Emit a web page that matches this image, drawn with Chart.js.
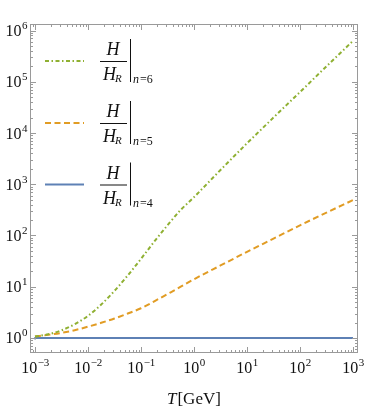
<!DOCTYPE html>
<html>
<head>
<meta charset="utf-8">
<script src="https://cdn.jsdelivr.net/npm/chart.js@4/dist/chart.umd.min.js"></script>
<style>
  html, body { margin: 0; padding: 0; background: #fff; }
  #wrap { position: relative; width: 366px; height: 412px; }
</style>
</head>
<body>
<div id="wrap"><canvas id="myChart"></canvas></div>
<script>
// temperatures T [GeV]
var tValues = [0.001, 0.00178, 0.00316, 0.00562, 0.01, 0.0178, 0.0316, 0.0562, 0.1, 0.178, 0.316, 0.562, 1, 3.16, 10, 31.6, 100, 316, 1000];
// H/H_R for n = 6, 5, 4
var ratioN6 = [1.07, 1.18, 1.41, 1.86, 2.7, 4.5, 8.3, 16.6, 35, 76, 158, 316, 560, 1900, 6300, 20000, 63000, 200000, 630000];
var ratioN5 = [1.07, 1.15, 1.26, 1.42, 1.66, 1.98, 2.4, 3.0, 3.8, 5.2, 7.2, 10, 14, 26, 48, 87, 158, 280, 490];
var ratioN4 = [0.94, 1, 1, 1, 1, 1, 1, 1, 1, 1, 1, 1, 1, 1, 1, 1, 1, 1, 1];
var tN4 = [0.001, 0.00101, 0.00316, 0.00562, 0.01, 0.0178, 0.0316, 0.0562, 0.1, 0.178, 0.316, 0.562, 1, 3.16, 10, 31.6, 100, 316, 1000];

var seriesLabels = ['n=6', 'n=5', 'n=4'];
var xDecades = [-3, -2, -1, 0, 1, 2, 3];
var yDecades = [0, 1, 2, 3, 4, 5, 6];

function pts(xs, ys) {
  return xs.map(function(x, i){ return {x: x, y: ys[i]}; });
}

var green = '#8FB032', orange = '#E19C24', blue = '#5E81B5';
var serif = '"Liberation Serif", "DejaVu Serif", serif';

function drawPow(ctx, x, y, exp, align) {
  var base = '10', sup = String(exp).replace('-', '\u2212');
  ctx.font = '16px ' + serif;
  var wb = ctx.measureText(base).width;
  ctx.font = '11px ' + serif;
  var ws = ctx.measureText(sup).width;
  var left = align === 'center' ? x - (wb + ws) / 2 : x - wb - ws;
  ctx.fillStyle = '#111';
  ctx.textAlign = 'left';
  ctx.textBaseline = 'alphabetic';
  ctx.font = '16px ' + serif;
  ctx.fillText(base, left, y);
  ctx.font = '11px ' + serif;
  ctx.fillText(sup, left + wb + 0.5, y - 7);
}

function drawLegendEntry(ctx, y, color, dash, sub) {
  ctx.save();
  ctx.strokeStyle = color;
  ctx.lineWidth = 2;
  ctx.setLineDash(dash);
  ctx.beginPath();
  ctx.moveTo(45, y);
  ctx.lineTo(84, y);
  ctx.stroke();
  ctx.setLineDash([]);
  ctx.fillStyle = '#111';
  ctx.strokeStyle = '#111';
  ctx.lineWidth = 1;
  ctx.textBaseline = 'alphabetic';
  ctx.font = 'italic 18px ' + serif;
  ctx.textAlign = 'center';
  ctx.fillText('H', 113, y - 6);
  ctx.beginPath();
  ctx.moveTo(100, y + 0.5);
  ctx.lineTo(127, y + 0.5);
  ctx.stroke();
  ctx.textAlign = 'left';
  ctx.fillText('H', 103, y + 19);
  var wh = ctx.measureText('H').width;
  ctx.font = 'italic 11px ' + serif;
  ctx.fillText('R', 103 + wh - 1, y + 21);
  ctx.beginPath();
  ctx.moveTo(130.5, y - 22);
  ctx.lineTo(130.5, y + 21);
  ctx.stroke();
  ctx.font = 'italic 12px ' + serif;
  ctx.fillText('n', 133, y + 22);
  ctx.font = '12px ' + serif;
  ctx.fillText(sub.slice(1), 140, y + 22);
  ctx.restore();
}

var framePlugin = {
  id: 'frame',
  afterDraw: function(chart) {
    var ctx = chart.ctx, a = chart.chartArea;
    var xs = chart.scales.x, ys = chart.scales.y;
    ctx.save();
    ctx.strokeStyle = '#9a9a9a';
    ctx.lineWidth = 1;
    ctx.strokeRect(Math.round(a.left) + 0.5, Math.round(a.top) + 0.5,
                   Math.round(a.right - a.left) - 1, Math.round(a.bottom - a.top) - 1);
    ctx.beginPath();
    for (var d = -4; d <= 3; d++) {
      for (var m = 1; m <= 9; m++) {
        var px = xs.getPixelForValue(m * Math.pow(10, d));
        if (px < a.left + 1 || px > a.right - 1) continue;
        var len = m === 1 ? 6 : 3;
        px = Math.round(px) + 0.5;
        ctx.moveTo(px, a.bottom); ctx.lineTo(px, a.bottom - len);
        ctx.moveTo(px, a.top); ctx.lineTo(px, a.top + len);
      }
    }
    for (d = -1; d <= 6; d++) {
      for (m = 1; m <= 9; m++) {
        var py = ys.getPixelForValue(m * Math.pow(10, d));
        if (py < a.top + 1 || py > a.bottom - 1) continue;
        len = m === 1 ? 6 : 3;
        py = Math.round(py) + 0.5;
        ctx.moveTo(a.left, py); ctx.lineTo(a.left + len, py);
        ctx.moveTo(a.right, py); ctx.lineTo(a.right - len, py);
      }
    }
    ctx.stroke();

    xDecades.forEach(function(e){
      drawPow(ctx, xs.getPixelForValue(Math.pow(10, e)), 373, e, 'center');
    });
    yDecades.forEach(function(e){
      drawPow(ctx, a.left - 3, ys.getPixelForValue(Math.pow(10, e)) + 5.5, e, 'right');
    });

    // axis title
    ctx.fillStyle = '#111';
    ctx.textAlign = 'left';
    ctx.font = 'italic 17px ' + serif;
    ctx.fillText('T', 167, 404);
    var wt = ctx.measureText('T').width;
    ctx.font = '17px ' + serif;
    ctx.fillText('[GeV]', 167 + wt + 1, 404);

    drawLegendEntry(ctx, 61, green, [4, 2.5, 1.5, 2.5], seriesLabels[0]);
    drawLegendEntry(ctx, 123, orange, [6, 3.5], seriesLabels[1]);
    drawLegendEntry(ctx, 184.5, blue, [], seriesLabels[2]);
    ctx.restore();
  }
};

new Chart(document.getElementById('myChart'), {
  type: 'line',
  data: {
    datasets: [{
      label: seriesLabels[0],
      data: pts(tValues, ratioN6),
      borderColor: green,
      borderWidth: 2,
      borderDash: [4, 2.5, 1.5, 2.5],
      pointRadius: 0,
      cubicInterpolationMode: 'monotone'
    }, {
      label: seriesLabels[1],
      data: pts(tValues, ratioN5),
      borderColor: orange,
      borderWidth: 2,
      borderDash: [6, 3.5],
      pointRadius: 0,
      cubicInterpolationMode: 'monotone'
    }, {
      label: seriesLabels[2],
      data: pts(tN4, ratioN4),
      borderColor: blue,
      borderWidth: 2,
      pointRadius: 0
    }]
  },
  options: {
    responsive: true,
    maintainAspectRatio: false,
    animation: false,
    events: [],
    layout: {
      padding: { left: 30, right: 8, top: 24, bottom: 59 }
    },
    plugins: {
      legend: { display: false },
      tooltip: { enabled: false }
    },
    scales: {
      x: {
        type: 'logarithmic',
        display: false,
        min: Math.pow(10, -3.094),
        max: Math.pow(10, 3.094)
      },
      y: {
        type: 'logarithmic',
        display: false,
        min: Math.pow(10, -0.293),
        max: Math.pow(10, 6.127)
      }
    }
  },
  plugins: [framePlugin]
});
</script>
</body>
</html>
